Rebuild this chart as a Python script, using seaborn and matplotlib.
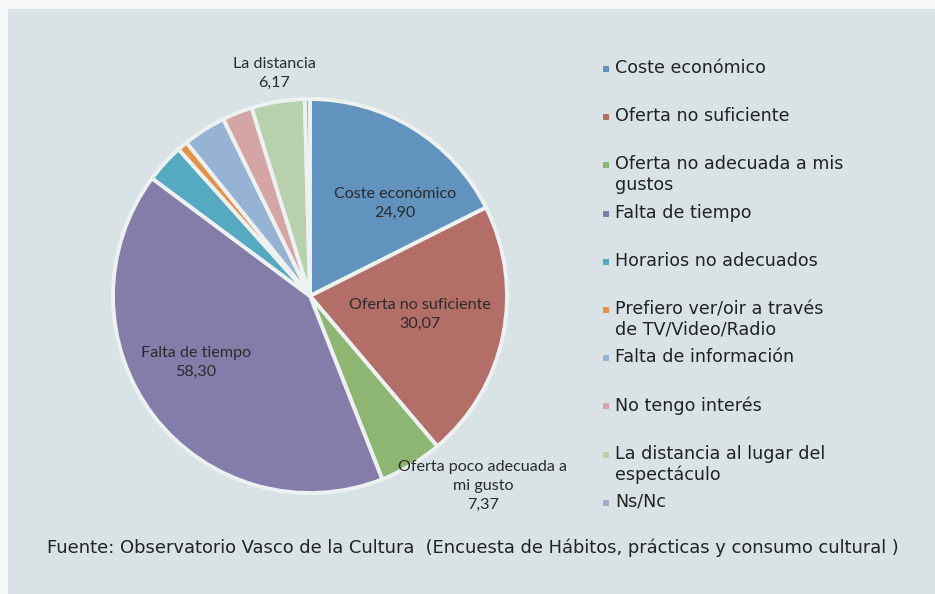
import matplotlib
matplotlib.use("Agg")
import matplotlib.pyplot as plt
import seaborn as sns
from matplotlib.patches import Rectangle

# ---- data ----
categories = [
    "Coste económico",
    "Oferta no suficiente",
    "Oferta no adecuada a mis\ngustos",
    "Falta de tiempo",
    "Horarios no adecuados",
    "Prefiero ver/oir a través\nde TV/Video/Radio",
    "Falta de información",
    "No tengo interés",
    "La distancia al lugar del\nespectáculo",
    "Ns/Nc",
]
values = [24.90, 30.07, 7.37, 58.30, 4.5, 1.2, 5.0, 3.5, 6.17, 0.6]
slice_labels = ["Coste económico", "Oferta no suficiente", "Oferta poco adecuada a\nmi gusto",
                "Falta de tiempo", None, None, None, None, "La distancia", None]
source_text = "Fuente: Observatorio Vasco de la Cultura  (Encuesta de Hábitos, prácticas y consumo cultural )"

# ---- style ----
colors = ["#6293BE", "#B26E67", "#8DB673", "#847DAA", "#55A9C1",
          "#E4924A", "#96B3D4", "#D5A5A6", "#B6D1AC", "#ADA7CC"]
bg = "#D9E2E4"
sns.set_theme(style="white")
plt.rcParams['font.family'] = ['DejaVu Sans']

W, H = 935, 594
fig = plt.figure(figsize=(W / 100, H / 100), dpi=100)
fig.patch.set_facecolor("#F6F8F8")
fig.add_artist(Rectangle((8 / W, 0), 1, 1 - 9 / H, transform=fig.transFigure,
                         facecolor=bg, edgecolor="none", zorder=0))

cx, cy, r = 310, 296, 197
ax = fig.add_axes([(cx - r) / W, (H - cy - r) / H, 2 * r / W, 2 * r / H])
ax.set_facecolor("none")
ax.patch.set_alpha(0)
wedges, _ = ax.pie(values, colors=colors, startangle=90, counterclock=False,
                   wedgeprops=dict(edgecolor="#EDF1F2", linewidth=2.8))
ax.set_xlim(-1, 1)
ax.set_ylim(-1, 1)
ax.set_aspect("equal")
ax.axis("off")

# slice label layout (axes data coordinates)
label_pos = [(0.431, 0.472), (0.558, -0.096), (0.878, -0.964), (-0.579, -0.335),
             None, None, None, None, (-0.183, 1.132), None]
lab_font = ["Lato", "DejaVu Sans"]
for lab, val, pos in zip(slice_labels, values, label_pos):
    if lab is None:
        continue
    txt = lab + "\n" + f"{val:.2f}".replace(".", ",")
    ax.text(pos[0], pos[1], txt, ha="center", va="center", fontsize=11.6,
            family=lab_font, color="#2b2b2b", linespacing=1.45, clip_on=False)

# legend (manual, rows like the original)
row0, step = 69, 48.2
for i, (cat, col) in enumerate(zip(categories, colors)):
    yc = row0 + step * i
    fig.add_artist(Rectangle(((603) / W, (H - yc - 3) / H), 6 / W, 6 / H,
                             transform=fig.transFigure, facecolor=col, edgecolor="none"))
    fig.text(615 / W, (H - yc + 10) / H, cat, ha="left", va="top", fontsize=12.6,
             color="#222222", linespacing=1.17)

fig.text(47 / W, (H - 548) / H, source_text, ha="left", va="center", fontsize=12.9,
         color="#222222")

fig.savefig("out.png", dpi=100, facecolor=fig.get_facecolor())
